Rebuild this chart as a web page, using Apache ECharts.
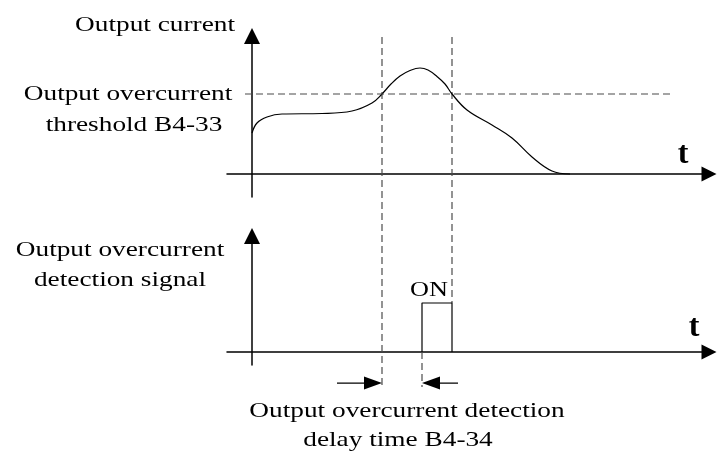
<!DOCTYPE html>
<html>
<head>
<meta charset="utf-8">
<script src="https://cdn.jsdelivr.net/npm/echarts@6/dist/echarts.min.js"></script>
<style>
  html, body { margin: 0; padding: 0; background: #fff; }
  #chart { width: 717px; height: 453px; }
</style>
</head>
<body>
<div id="chart"></div>
<script>
// ---- time axis (arbitrary units, 0 = start of output) ----
const timeRange = [-2.5, 45.7];

// ---- output current waveform ----
const currentTime  = [0, 0.5, 1.5, 3.0, 7.0, 10.0, 12.0, 13.0, 13.9, 14.8, 15.8, 16.8, 17.6, 18.5, 19.3, 20.0, 21.5, 24.0, 26.0, 28.0, 30.0, 31.8];
const currentValue = [4.1, 5.1, 5.7, 6.0, 6.05, 6.3, 7.1, 8.0, 9.0, 9.8, 10.35, 10.6, 10.4, 9.75, 9.0, 8.0, 6.4, 4.9, 3.6, 1.7, 0.3, 0];
const currentRange = [-2.3, 13.8];

// overcurrent threshold B4-33 and the extent of its dashed guide
const threshold = 8;
const thresholdSpan = [-0.7, 42.0];

// ---- event times ----
const tCross = 13.0;  // current rises above threshold
const tOn    = 17.0;  // detection delay B4-34 elapsed -> signal ON
const tOff   = 20.0;  // current drops below threshold -> signal OFF

// ---- detection signal ----
const signalOff = 0, signalOn = 1;
const signalRange = [-0.265, 2.367];
const guideRange  = [-0.714, 6.429];   // full-height guide layer, same units as the signal
const delayArrowLevel = -0.633;
const delayArrowTails = [4.5, 3.6];   // tail lengths of the two delay arrows
const arrowHeadHalf = 0.9;

// ---- texts ----
const yLabelTop      = 'Output current';
const thresholdLabel = ['Output overcurrent', 'threshold B4-33'];
const signalLabel    = ['Output overcurrent', 'detection signal'];
const delayLabel     = ['Output overcurrent detection', 'delay time B4-34'];
const onLabel        = 'ON';
const timeLabel      = 't';

const SERIF = '"Liberation Serif", "Times New Roman", serif';
const LABEL_FONT = '21px ' + SERIF;
const STRETCH = 1.3;
const INK = '#000';
const GUIDE = '#4a4a4a';
const dash = [7, 4];

const chart = echarts.init(document.getElementById('chart'), null, { renderer: 'canvas' });

const gridX = { left: 227, right: 8, containLabel: false, outerBoundsMode: 'none' };
const hidden = { show: false };

function xAxisCfg(gridIndex, showLine) {
  return {
    type: 'value', gridIndex, min: timeRange[0], max: timeRange[1],
    axisLine: showLine ? {
      show: true, onZero: true,
      symbol: ['none', 'triangle'], symbolSize: [15, 15],
      lineStyle: { color: INK, width: 1.5 }
    } : hidden,
    axisTick: hidden, axisLabel: hidden, splitLine: hidden
  };
}
function yAxisCfg(gridIndex, range, showLine) {
  return {
    type: 'value', gridIndex, min: range[0], max: range[1],
    axisLine: showLine ? {
      show: true, onZero: true,
      symbol: ['none', 'triangle'], symbolSize: [16, 16],
      lineStyle: { color: INK, width: 1.5 }
    } : hidden,
    axisTick: hidden, axisLabel: hidden, splitLine: hidden
  };
}

const guides = [
  [[tCross, guideRange[1]], [tCross, guideRange[0]]],
  [[tOff, guideRange[1]], [tOff, signalOn]],
  [[tOn, signalOff], [tOn, guideRange[0]]]
];

// the two arrows bracketing the detection delay: [tail x, head x, rotation]
const delayArrows = [
  [tCross - delayArrowTails[0], tCross - arrowHeadHalf, -90],
  [tOn + delayArrowTails[1], tOn + arrowHeadHalf, 90]
];

function text(str, x, y, opts) {
  opts = opts || {};
  return {
    type: 'text', x, y, z: 100,
    scaleX: opts.scale != null ? opts.scale : STRETCH,
    style: {
      text: str, x: 0, y: 0,
      font: opts.font || LABEL_FONT,
      fill: INK,
      align: opts.align || 'center',
      verticalAlign: 'middle'
    }
  };
}

const option = {
  backgroundColor: '#fff',
  animation: false,
  grid: [
    Object.assign({ top: 36, bottom: 256 }, gridX),
    Object.assign({ top: 236, bottom: 88 }, gridX),
    Object.assign({ top: 37, bottom: 66 }, gridX)
  ],
  xAxis: [xAxisCfg(0, true), xAxisCfg(1, true), xAxisCfg(2, false)],
  yAxis: [yAxisCfg(0, currentRange, true), yAxisCfg(1, signalRange, true), yAxisCfg(2, guideRange, false)],
  series: [
    {
      name: 'Output current', type: 'line', xAxisIndex: 0, yAxisIndex: 0,
      data: currentTime.map((t, i) => [t, currentValue[i]]),
      smooth: 0.4, showSymbol: false, silent: true, z: 3,
      lineStyle: { color: INK, width: 1.2 }
    },
    {
      name: 'Threshold', type: 'line', xAxisIndex: 0, yAxisIndex: 0,
      data: thresholdSpan.map(t => [t, threshold]),
      showSymbol: false, silent: true,
      lineStyle: { color: GUIDE, width: 1.2, type: dash }
    },
    {
      name: 'Detection signal', type: 'line', xAxisIndex: 1, yAxisIndex: 1,
      data: [[tOn, signalOff], [tOn, signalOn], [tOff, signalOn], [tOff, signalOff]],
      showSymbol: false, silent: true, z: 3,
      lineStyle: { color: INK, width: 1.2 }
    },
    ...guides.map((g, i) => ({
      name: 'guide' + i, type: 'line', xAxisIndex: 2, yAxisIndex: 2,
      data: g, showSymbol: false, silent: true, z: 1,
      lineStyle: { color: GUIDE, width: 1.2, type: dash }
    })),
    ...delayArrows.map((a, i) => ({
      name: 'delayArrow' + i, type: 'line', xAxisIndex: 2, yAxisIndex: 2,
      showSymbol: true, showAllSymbol: true, silent: true, z: 4,
      lineStyle: { color: INK, width: 1.2 },
      itemStyle: { color: INK, borderWidth: 0 },
      data: [
        { value: [a[0], delayArrowLevel], symbol: 'none' },
        { value: [a[1], delayArrowLevel], symbol: 'triangle', symbolSize: [13, 18], symbolRotate: a[2] }
      ]
    }))
  ],
  graphic: [
    text(yLabelTop, 235, 25, { align: 'right' }),
    text(thresholdLabel[0], 128, 94),
    text(thresholdLabel[1], 134, 125),
    text(signalLabel[0], 120, 250),
    text(signalLabel[1], 120, 280),
    text(onLabel, 429, 290, { scale: 1.25 }),
    text(timeLabel, 683, 155, { font: 'bold 32px ' + SERIF, scale: 1 }),
    text(timeLabel, 694, 328, { font: 'bold 32px ' + SERIF, scale: 1 }),
    text(delayLabel[0], 407, 411),
    text(delayLabel[1], 398, 440)
  ]
};

chart.setOption(option);
</script>
</body>
</html>
